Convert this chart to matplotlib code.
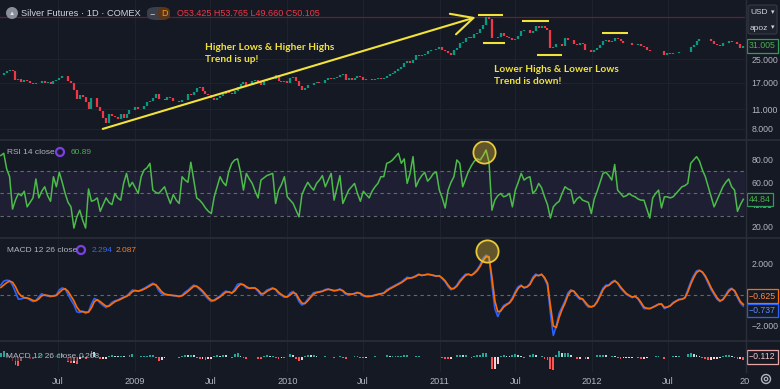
import numpy as np
import pandas as pd
import matplotlib
matplotlib.use('Agg')
import matplotlib.pyplot as plt
import matplotlib.dates as mdates
from matplotlib.ticker import FixedLocator, NullLocator, FixedFormatter
from matplotlib.patches import Ellipse, FancyBboxPatch
from matplotlib.lines import Line2D
from matplotlib.transforms import blended_transform_factory

plt.rcParams['font.family'] = ['Liberation Sans', 'DejaVu Sans']

# ---------------- data (weekly) ----------------
start_date = '2008-02-15'

close = [
    19.3, 19.8, 20.4,
    20.8, 20.5, 17.6, 17.9,
    17.2, 17.6, 17.5, 16.8,
    16.5, 17.0, 16.8, 17.4, 16.8,
    17.1, 16.7, 17.4, 17.7,
    18.3, 18.9, 18.8, 17.5,
    17.0, 15.0, 12.9, 13.8, 13.5,
    12.4, 11.1, 13.1, 13.3,
    11.4, 10.6, 9.5, 8.7, 10.1,
    9.9, 9.6, 9.3, 10.1,
    9.5, 10.1, 10.8, 10.9,
    # 2009
    11.3, 11.0, 11.1, 11.6, 12.4,
    12.6, 13.3, 14.1, 13.0,
    13.0, 12.7, 13.4, 13.2,
    12.5, 12.6, 12.3, 12.7,
    12.8, 14.0, 13.9, 14.6, 15.6,
    15.7, 14.9, 14.2, 13.9,
    13.3, 12.8, 13.3, 13.7, 14.0,
    14.8, 14.4, 14.2, 14.7,
    15.9, 16.5, 17.2, 16.3,
    16.4, 17.4, 17.6, 17.1, 16.3,
    17.3, 17.6, 18.4, 18.0,
    19.1, 17.5, 17.2, 17.3,
    # 2010
    17.0, 18.3, 18.6, 17.4, 16.2,
    15.0, 15.6, 16.3, 16.4,
    17.0, 17.2, 16.8, 16.9,
    17.6, 18.3, 18.0, 18.2, 18.6,
    19.3, 19.5, 17.6, 18.3,
    17.7, 18.4, 19.0, 18.7,
    17.7, 18.0, 17.9, 17.8, 17.9,
    18.2, 18.1, 18.3, 18.9,
    19.6, 19.9, 20.7, 21.3,
    22.1, 23.3, 24.3, 23.4, 24.7,
    26.8, 26.2, 26.8, 27.3,
    28.5, 28.8, 29.0, 29.3, 30.6,
    # 2011
    28.9, 28.4, 27.4, 26.8,
    29.0, 30.2, 32.5, 33.3,
    35.5, 35.6, 35.2, 37.5,
    38.0, 40.7, 43.5, 49.5, 47.8,
    35.3, 35.1, 35.6, 38.2,
    36.4, 35.9, 35.2, 34.0,
    34.6, 36.5, 39.3, 40.0, 40.2,
    38.3, 39.3, 42.8, 41.3,
    43.1, 41.6, 40.0, 30.1, 30.5,
    31.8, 32.1, 31.1, 35.3,
    34.4, 34.3, 31.9, 31.4,
    32.6, 32.0, 29.2, 29.2, 28.2,
    # 2012
    29.0, 30.0, 31.7, 33.6,
    34.0, 33.3, 33.6, 35.4,
    34.6, 33.8, 32.7, 32.3, 32.6,
    31.7, 31.6, 31.8, 31.2,
    30.5, 28.9, 28.6, 28.3,
    28.5, 28.4, 28.6, 26.7, 27.5,
    27.0, 27.6, 27.5, 28.0,
    27.9, 28.0, 28.2, 30.6, 31.6,
    33.6, 34.6, 34.6, 34.5,
    34.6, 33.4, 32.2, 31.6,
    30.8, 32.4, 32.5, 33.8, 33.0,
    33.0, 32.2, 30.0, 31.005,
]

rsi = [
    84, 86, 72, 65, 36, 44, 50, 48, 52, 38,
    42, 46, 63, 46, 52, 56, 48, 43, 65, 56,
    69, 60, 50, 42, 38, 19, 29, 35, 26, 19,
    54, 43, 44, 46, 34, 40, 46, 42, 40, 50,
    46, 44, 59, 68, 56, 60, 55, 50, 65, 71,
    73, 77, 53, 51, 50, 53, 56, 48, 41, 49,
    44, 41, 65, 62, 60, 78, 62, 46, 44, 41,
    37, 34, 32, 47, 56, 65, 60, 57, 70, 77,
    80, 81, 69, 53, 68, 63, 59, 52, 46, 62,
    64, 66, 67, 68, 41, 53, 58, 65, 47, 44,
    41, 35, 29, 49, 55, 60, 56, 53, 59, 62,
    66, 56, 62, 68, 44, 55, 66, 41, 47, 53,
    56, 59, 50, 43, 52, 49, 46, 52, 56, 59,
    65, 65, 77, 78, 80, 83, 86, 77, 81, 59,
    68, 83, 56, 62, 66, 69, 61, 64, 68, 69,
    53, 46, 37, 53, 60, 65, 80, 77, 56, 63,
    70, 75, 79, 81, 80, 84, 89, 78, 35,
    44, 48, 50, 47, 48, 50, 38, 53, 60, 68,
    62, 64, 65, 50, 53, 59, 55, 47, 40, 28,
    38, 41, 43, 50, 56, 54, 53, 41, 45, 47,
    44, 43, 42, 32, 45, 52, 60, 68, 69, 66,
    62, 76, 53, 50, 47, 48, 50, 48, 47, 45,
    44, 44, 36, 28, 46, 50, 53, 37, 47, 47,
    46, 47, 50, 53, 56, 57, 59, 77, 80, 83,
    79, 71, 65, 56, 47, 38, 44, 50, 56, 60,
    63, 56, 53, 34, 40, 44.84,
]

macd = [
    0.6, 0.85, 0.91, 0.88, 0.6, 0.15, -0.3, -0.28, -0.22, -0.24,
    -0.35, -0.45, -0.38, -0.15, 0.05, -0.05, -0.1, -0.14, -0.08, -0.03,
    0.3, 0.42, 0.35, 0.0, -0.35, -0.65, -1.1, -1.15, -1.05, -1.2,
    -1.1, -0.6, -0.25, -0.35, -0.55, -0.7, -0.83, -0.7, -0.5, -0.4,
    -0.35, -0.25, -0.16, -0.1, 0.1, 0.29, 0.25, 0.2, 0.3, 0.39,
    0.5, 0.62, 0.72, 0.6, 0.25, 0.05, -0.02, -0.03, -0.05, -0.07,
    -0.1, -0.14, -0.05, 0.15, 0.27, 0.45, 0.6, 0.5, 0.32, 0.15,
    -0.1, -0.3, -0.45, -0.35, -0.2, -0.1, 0.1, 0.22, 0.15, 0.07,
    0.35, 0.65, 0.7, 0.6, 0.42, 0.38, 0.43, 0.4, 0.2, -0.03,
    0.1, 0.28, 0.35, 0.43, 0.3, 0.05, -0.05, -0.18, -0.15, 0.1,
    0.2, -0.05, -0.45, -0.67, -0.55, -0.3, -0.1, 0.12, 0.15, 0.18,
    0.22, 0.32, 0.35, 0.28, 0.22, 0.28, 0.35, 0.2, 0.0, 0.02,
    0.01, 0.08, 0.14, 0.05, -0.1, -0.14, -0.12, -0.08, -0.02, 0.02,
    0.06, 0.1, 0.3, 0.4,
    0.5, 0.6, 0.7, 0.8, 0.95, 1.1, 1.05, 1.1, 1.2, 1.3,
    1.2, 1.25, 1.3, 1.25, 1.2, 1.15, 1.2, 1.0, 0.8, 0.5,
    0.3, 0.4, 0.6, 0.9, 1.1, 1.3, 1.3, 1.2, 1.4, 1.6,
    1.9, 2.3, 2.5, 2.4, 0.6, -0.9, -1.4, -1.0, -0.7, -0.6,
    -0.5, -0.2, 0.2, 0.5, 0.6, 0.4, 0.5, 0.7, 1.1, 1.3,
    1.2, 1.3, 1.0, 0.6, -1.2, -2.6, -2.0, -1.2, -0.8, -0.4,
    0.1, 0.3, 0.2, -0.1, -0.3, -0.3, -0.6, -0.8, -0.8, -0.7,
    -0.4, 0.0, 0.4, 0.6, 0.6, 0.8, 0.9, 0.7, 0.4, 0.2,
    0.0, -0.1, -0.2, -0.1, -0.3, -0.6, -0.9, -0.9, -0.9, -0.8,
    -0.7, -0.6, -0.6, -0.9, -0.8, -0.7, -0.5, -0.4, -0.3, -0.3,
    -0.2, 0.3, 0.8, 1.2, 1.5, 1.55, 1.4, 1.1, 0.7, 0.3,
    0.0, -0.3, -0.45, -0.3, 0.0, 0.3, 0.4, 0.2, -0.2, -0.55, -0.737,
]

signal = [
    0.45, 0.6, 0.75, 0.85, 0.78, 0.5, 0.1, -0.1, -0.2, -0.22,
    -0.28, -0.38, -0.4, -0.28, -0.08, -0.03, -0.06, -0.1, -0.1, -0.06,
    0.12, 0.3, 0.37, 0.2, -0.1, -0.4, -0.8, -1.05, -1.1, -1.12,
    -1.12, -0.85, -0.45, -0.33, -0.45, -0.6, -0.74, -0.74, -0.6, -0.46,
    -0.38, -0.3, -0.2, -0.12, 0.0, 0.18, 0.25, 0.22, 0.26, 0.34,
    0.44, 0.55, 0.65, 0.63, 0.42, 0.18, 0.04, -0.01, -0.04, -0.06,
    -0.08, -0.11, -0.08, 0.05, 0.2, 0.36, 0.52, 0.53, 0.4, 0.23,
    0.02, -0.2, -0.37, -0.38, -0.27, -0.15, 0.0, 0.15, 0.17, 0.1,
    0.22, 0.48, 0.65, 0.63, 0.5, 0.4, 0.41, 0.41, 0.28, 0.06,
    0.05, 0.2, 0.3, 0.38, 0.34, 0.15, 0.0, -0.12, -0.15, -0.02,
    0.12, 0.05, -0.28, -0.55, -0.58, -0.4, -0.18, 0.02, 0.12, 0.16,
    0.2, 0.28, 0.33, 0.3, 0.25, 0.26, 0.32, 0.25, 0.08, 0.03,
    0.02, 0.05, 0.11, 0.08, -0.05, -0.11, -0.12, -0.1, -0.05, 0.0,
    0.04, 0.08, 0.22, 0.35, 0.45, 0.55, 0.65, 0.75, 0.88, 1.02,
    1.04, 1.08, 1.16, 1.26, 1.22, 1.24, 1.28, 1.26, 1.22, 1.17,
    1.18, 1.05, 0.87, 0.6, 0.38, 0.38, 0.53, 0.8, 1.02, 1.22,
    1.28, 1.23, 1.34, 1.52, 1.8, 2.15, 2.4, 2.38, 1.1, -0.4,
    -1.1, -1.05, -0.8, -0.65, -0.54, -0.3, 0.08, 0.4, 0.55, 0.45,
    0.48, 0.63, 0.98, 1.22, 1.2, 1.27, 1.08, 0.72, -0.7, -2.0,
    -2.1, -1.45, -0.95, -0.55, -0.05, 0.22, 0.22, 0.0, -0.22, -0.28,
    -0.5, -0.72, -0.78, -0.72, -0.48, -0.1, 0.3, 0.52, 0.58, 0.74,
    0.86, 0.74, 0.48, 0.26, 0.06, -0.06, -0.16, -0.12, -0.25, -0.5,
    -0.8, -0.87, -0.89, -0.82, -0.73, -0.63, -0.6, -0.82, -0.8, -0.72,
    -0.55, -0.43, -0.33, -0.3, -0.22, 0.16, 0.65, 1.07, 1.4, 1.52,
    1.43, 1.18, 0.82, 0.42, 0.1, -0.2, -0.4, -0.33, -0.08, 0.2,
    0.36, 0.25, -0.1, -0.45, -0.625,
]

hist = [
    0.15, 0.25, 0.16, 0.03, -0.18, -0.35, -0.4, -0.18, -0.02, -0.02,
    -0.07, -0.07, 0.02, 0.13, 0.13, -0.02, -0.04, -0.04, 0.02, 0.03,
    0.18, 0.12, -0.02, -0.2, -0.25, -0.25, -0.3, -0.1, 0.05, -0.08,
    0.02, 0.25, 0.2, -0.02, -0.1, -0.1, -0.09, 0.04, 0.1, 0.06,
    0.03, 0.05, 0.04, 0.02, 0.1, 0.11, 0.0, -0.02, 0.04, 0.05,
    0.06, 0.07, 0.07, -0.03, -0.17, -0.13, -0.06, -0.02, -0.01, -0.01,
    -0.02, -0.03, 0.03, 0.1, 0.07, 0.09, 0.08, -0.03, -0.08, -0.08,
    -0.12, -0.1, -0.08, 0.03, 0.07, 0.05, 0.1, 0.07, -0.02, -0.03,
    0.13, 0.17, 0.05, -0.03, -0.08, -0.02, 0.02, -0.01, -0.08, -0.09,
    0.05, 0.08, 0.05, 0.05, -0.04, -0.1, -0.05, -0.06, 0.0, 0.12,
    0.08, -0.1, -0.17, -0.12, 0.03, 0.1, 0.08, 0.1, 0.03, 0.02,
    0.02, 0.04, 0.02, -0.02, -0.03, 0.02, 0.03, -0.05, -0.08, -0.01,
    -0.01, 0.03, 0.03, -0.03, -0.05, -0.03, 0.0, 0.02, 0.03, 0.02,
    0.02, 0.02, 0.08, 0.05, 0.05, 0.05, 0.05, 0.05, 0.07, 0.08,
    0.01, 0.02, 0.04, 0.04, -0.02, 0.01, 0.02, -0.01, -0.02, -0.02,
    0.02, -0.05, -0.07, -0.1, -0.08, 0.02, 0.07, 0.1, 0.08, 0.08,
    0.02, -0.03, 0.06, 0.08, 0.1, 0.15, 0.15, 0.0, -0.5, -0.5,
    -0.3, 0.05, 0.1, 0.05, 0.04, 0.1, 0.12, 0.1, 0.05, -0.05,
    0.02, 0.07, 0.12, 0.08, 0.0, 0.03, -0.08, -0.12, -0.5, -0.55,
    0.1, 0.25, 0.15, 0.15, 0.15, 0.08, -0.02, -0.1, -0.08, -0.02,
    -0.1, -0.08, -0.02, 0.02, 0.08, 0.1, 0.1, 0.08, 0.02, 0.06,
    0.04, -0.04, -0.08, -0.06, -0.06, -0.04, -0.04, 0.02, -0.05, -0.1,
    -0.1, -0.03, -0.01, 0.02, 0.03, 0.03, 0.0, -0.08, 0.0, 0.02,
    0.05, 0.03, 0.03, 0.0, 0.02, 0.14, 0.15, 0.13, 0.1, 0.03,
    -0.03, -0.08, -0.12, -0.12, -0.1, -0.1, -0.05, 0.03, 0.08, 0.1,
    0.04, -0.05, -0.1, -0.1, -0.112,
]

price_ticks = [8, 11, 17, 25]
price_tick_labels = ['8.000', '11.000', '17.000', '25.000']
rsi_ticks = [20, 40, 60, 80]
rsi_tick_labels = ['20.00', '40.00', '60.00', '80.00']
macd_ticks = [-2, 2]
macd_tick_labels = ['\u22122.000', '2.000']
time_ticks = ['2008-07-01', '2009-01-01', '2009-07-01', '2010-01-01', '2010-07-01',
              '2011-01-01', '2011-07-01', '2012-01-01', '2012-07-01', '2013-01-01']
time_labels = ['Jul', '2009', 'Jul', '2010', 'Jul', '2011', 'Jul', '2012', 'Jul', '20']

# annotations (data coordinates)
trend_arrow = (('2008-10-16', 7.95), ('2011-03-28', 49.6))
level_lines = [
    ('2011-04-02', '2011-06-01', 51.4),
    ('2011-04-14', '2011-06-06', 32.5),
    ('2011-07-16', '2011-09-19', 46.6),
    ('2011-08-21', '2011-10-20', 26.7),
    ('2012-01-24', '2012-03-26', 38.3),
]
text_up = ('2009-06-18', 32.6, 'Higher Lows & Higher Highs\nTrend is up!')
text_down = ('2011-05-12', 22.7, 'Lower Highs & Lower Lows\nTrend is down!')
rsi_circle = ('2011-04-18', 87.2)
macd_circle = ('2011-04-23', 2.76)

# ---------------- style ----------------
W, H, DPI = 780, 389, 100
BG = '#151924'
GRID = '#1e222d'
SEP = '#2a2e39'
TXT = '#b2b5be'
UP = '#089981'
DN = '#f23645'
RSI_C = '#4cbb4a'
BLUE = '#2962ff'
ORANGE = '#ff6d00'
YEL = '#f2e33a'
FS = 6.0

fig = plt.figure(figsize=(W / DPI, H / DPI), dpi=DPI, facecolor=BG)


def fx(px):
    return px / W


def fy(py):
    return 1 - py / H


PR = 745  # right edge of plotting area (px)
ax_p = fig.add_axes([0, fy(140), fx(PR), 140 / H])
ax_r = fig.add_axes([0, fy(237), fx(PR), 96 / H])
ax_m = fig.add_axes([0, fy(340), fx(PR), 102 / H])
ax_h = fig.add_axes([0, fy(372), fx(PR), 31 / H])

dates = pd.date_range(start_date, periods=len(close), freq='7D')
xd = mdates.date2num(dates)
tt = mdates.date2num(pd.to_datetime(time_ticks))
xlim = (mdates.date2num(pd.Timestamp('2008-02-13')), mdates.date2num(pd.Timestamp('2013-01-01')))

for ax in (ax_p, ax_r, ax_m, ax_h):
    ax.set_facecolor(BG)
    for s in ax.spines.values():
        s.set_visible(False)
    ax.set_xlim(*xlim)
    ax.xaxis.set_major_locator(FixedLocator(tt))
    ax.xaxis.set_minor_locator(NullLocator())
    ax.grid(axis='x', color=GRID, lw=0.8)
    ax.tick_params(axis='x', length=0, labelbottom=False)
    ax.yaxis.tick_right()
    ax.tick_params(axis='y', which='both', length=0, pad=4.5, labelsize=6.3, labelcolor=TXT)
    ax.set_axisbelow(True)

# ---- price panel ----
c = np.array(close)
o = np.r_[c[0], c[:-1]]
cols = np.where(c >= o, UP, DN)
ax_p.set_yscale('log')
ax_p.set_ylim(6.63, 65.8)
ax_p.yaxis.set_major_locator(FixedLocator(price_ticks))
ax_p.yaxis.set_minor_locator(NullLocator())
ax_p.yaxis.set_major_formatter(FixedFormatter(price_tick_labels))
ax_p.grid(axis='y', color=GRID, lw=0.8)
ax_p.axhline(50.105, color='#5a2530', lw=0.9)
ax_p.vlines(xd, np.minimum(o, c), np.maximum(o, c), colors=cols, lw=1.6)

a0 = (mdates.date2num(pd.Timestamp(trend_arrow[0][0])), trend_arrow[0][1])
a1 = (mdates.date2num(pd.Timestamp(trend_arrow[1][0])), trend_arrow[1][1])
ax_p.annotate('', xy=a1, xytext=a0,
              arrowprops=dict(arrowstyle='->,head_length=1.1,head_width=0.55',
                              color=YEL, lw=1.5, mutation_scale=14, shrinkA=0, shrinkB=0))
for d0, d1, lvl in level_lines:
    ax_p.plot([mdates.date2num(pd.Timestamp(d0)), mdates.date2num(pd.Timestamp(d1))], [lvl, lvl],
              color=YEL, lw=1.5, solid_capstyle='butt')
for d0, yv, s in (text_up, text_down):
    ax_p.text(mdates.date2num(pd.Timestamp(d0)), yv, s, color=YEL, fontsize=7.3,
              family=['Lato', 'DejaVu Sans'], fontweight='bold', va='top', ha='left', linespacing=1.5)

tr = blended_transform_factory(ax_p.transAxes, ax_p.transData)
ax_p.text(1.005, close[-1], f'{close[-1]:.3f}', transform=tr, ha='left', va='center', fontsize=6.3,
          color='#4caf50', bbox=dict(boxstyle='square,pad=0.25', fc=BG, ec='#2e9e5b', lw=0.9))

# ---- RSI panel ----
ax_r.set_ylim(11.0, 97.0)
ax_r.yaxis.set_major_locator(FixedLocator(rsi_ticks))
ax_r.yaxis.set_major_formatter(FixedFormatter(rsi_tick_labels))
ax_r.axhspan(30, 70, color='#7e57c2', alpha=0.10, lw=0)
for lv in (70, 50, 30):
    ax_r.axhline(lv, color='#787b86', lw=0.8, ls=(0, (3, 3)), alpha=0.8)
ax_r.plot(xd, rsi, color=RSI_C, lw=1.1)
ax_r.plot([mdates.date2num(pd.Timestamp(rsi_circle[0]))], [rsi_circle[1]], 'o', ms=16,
          mfc=(0.95, 0.78, 0.2, 0.35), mec='#e8c93a', mew=1.3)
tr = blended_transform_factory(ax_r.transAxes, ax_r.transData)
ax_r.text(1.005, rsi[-1], f'{rsi[-1]:.2f}', transform=tr, ha='left', va='center', fontsize=6.3,
          color='#4caf50', zorder=10,
          bbox=dict(boxstyle='square,pad=0.25', fc=BG, ec='#2e9e5b', lw=0.9))

# ---- MACD panel ----
ax_m.set_ylim(-2.89, 3.59)
ax_m.yaxis.set_major_locator(FixedLocator(macd_ticks))
ax_m.yaxis.set_major_formatter(FixedFormatter(macd_tick_labels))
ax_m.axhline(0, color='#787b86', lw=0.8, ls=(0, (3, 3)), alpha=0.8)
ax_m.plot(xd, macd, color=BLUE, lw=1.2)
ax_m.plot(xd, signal, color=ORANGE, lw=1.2)
ax_m.plot([mdates.date2num(pd.Timestamp(macd_circle[0]))], [macd_circle[1]], 'o', ms=16,
          mfc=(0.95, 0.78, 0.2, 0.35), mec='#e8c93a', mew=1.3)
tr = blended_transform_factory(ax_m.transAxes, ax_m.transData)
ax_m.annotate(f'{signal[-1]:.3f}'.replace('-', '\u2212'), xy=(1.005, signal[-1]), xycoords=tr,
              xytext=(0, 6), textcoords='offset points', ha='left', va='center', fontsize=6.3,
              color='#ff8a3d', bbox=dict(boxstyle='square,pad=0.25', fc=BG, ec=ORANGE, lw=0.9))
ax_m.annotate(f'{macd[-1]:.3f}'.replace('-', '\u2212'), xy=(1.005, macd[-1]), xycoords=tr,
              xytext=(0, -3), textcoords='offset points', ha='left', va='center', fontsize=6.3,
              color='#5b8cff', bbox=dict(boxstyle='square,pad=0.25', fc=BG, ec=BLUE, lw=0.9))

# ---- histogram panel ----
hv = np.array(hist)
prev = np.r_[hv[0], hv[:-1]]
hcols = np.where(hv >= 0, np.where(hv >= prev, '#26a69a', '#b2dfdb'),
                 np.where(hv < prev, '#ff5252', '#ffcdd2'))
ax_h.set_ylim(-0.636, 0.678)
ax_h.set_yticks([])
ax_h.bar(xd, hv, width=4.5, color=hcols, lw=0)
ax_h.tick_params(axis='x', labelbottom=True, labelsize=6.6, labelcolor=TXT, pad=3.5)
ax_h.xaxis.set_major_formatter(FixedFormatter(time_labels))
tr = blended_transform_factory(ax_h.transAxes, ax_h.transData)
ax_h.text(1.005, 0, f'{hist[-1]:.3f}'.replace('-', '\u2212'), transform=tr, ha='left', va='center',
          fontsize=6.3, color='#f5c4c4', bbox=dict(boxstyle='square,pad=0.25', fc=BG, ec='#e9a5a5', lw=0.9))

# ---- separators ----
for yy in (140.5, 237.5, 340.5):
    fig.add_artist(Line2D([0, 1], [fy(yy), fy(yy)], color=SEP, lw=1.2, transform=fig.transFigure))
fig.add_artist(Line2D([fx(PR + 0.5), fx(PR + 0.5)], [fy(372), 1], color=SEP, lw=1.0, transform=fig.transFigure))

# ---- header / legends ----
fig.add_artist(Ellipse((fx(12), fy(13)), 12 / W, 12 / H, transform=fig.transFigure, fc='#8a8e99', ec='none'))
fig.text(fx(12), fy(13.5), '\u25b2', ha='center', va='center', fontsize=4.5, color='#e0e3eb')
fig.text(fx(21), fy(13), 'Silver Futures \u00b7 1D \u00b7 COMEX', ha='left', va='center', fontsize=6.7, color='#d1d4dc')
fig.add_artist(FancyBboxPatch((fx(147), fy(20)), 23 / W, 13 / H, boxstyle='round,pad=0,rounding_size=0.012',
                              transform=fig.transFigure, fc='#3a3f4b', ec='none'))
fig.add_artist(FancyBboxPatch((fx(158), fy(20)), 12 / W, 13 / H, boxstyle='round,pad=0,rounding_size=0.012',
                              transform=fig.transFigure, fc='#5a3518', ec='none'))
fig.text(fx(152.5), fy(13.5), '\u2212', ha='center', va='center', fontsize=6.5, color='#d1d4dc')
fig.text(fx(164), fy(13.5), 'D', ha='center', va='center', fontsize=6.5, color='#ff9800')
fig.text(fx(177), fy(13), 'O53.425 H53.765 L49.660 C50.105', ha='left', va='center', fontsize=6.5, color='#f23645')

fig.add_artist(FancyBboxPatch((fx(748), fy(34)), 29 / W, 29 / H, boxstyle='round,pad=0,rounding_size=0.004',
                              transform=fig.transFigure, fc='#1e222d', ec='#363a45', lw=0.8))
fig.text(fx(750.5), fy(12.5), 'USD', ha='left', va='center', fontsize=6, color='#d1d4dc')
fig.text(fx(772.5), fy(12.5), '\u25be', ha='center', va='center', fontsize=5, color='#d1d4dc')
fig.text(fx(750), fy(28), 'apoz', ha='left', va='center', fontsize=6, color='#d1d4dc')
fig.text(fx(772.5), fy(28), '\u25be', ha='center', va='center', fontsize=5, color='#d1d4dc')

fig.text(fx(7), fy(152), 'RSI 14 close', ha='left', va='center', fontsize=FS, color=TXT)
fig.add_artist(Ellipse((fx(60), fy(152)), 8 / W, 8 / H, transform=fig.transFigure, fc='none', ec='#7b3fe4', lw=1.6))
fig.text(fx(71), fy(152), '60.89', ha='left', va='center', fontsize=FS, color='#4caf50')

fig.text(fx(7), fy(250), 'MACD 12 26 close', ha='left', va='center', fontsize=FS, color=TXT)
fig.add_artist(Ellipse((fx(81), fy(250)), 8 / W, 8 / H, transform=fig.transFigure, fc='none', ec='#7b3fe4', lw=1.6))
fig.text(fx(92), fy(250), '2.294', ha='left', va='center', fontsize=FS, color='#2f6bff')
fig.text(fx(116), fy(250), '2.087', ha='left', va='center', fontsize=FS, color='#ff7a1a')

fig.text(fx(6), fy(357), 'MACD 12 26 close', ha='left', va='center', fontsize=FS, color=TXT,
         bbox=dict(boxstyle='square,pad=0.1', fc=BG, ec='none', alpha=0.6))
fig.text(fx(79), fy(357), '0.208', ha='left', va='center', fontsize=FS, color=TXT)

fig.add_artist(Ellipse((fx(766), fy(379)), 9 / W, 9 / H, transform=fig.transFigure, fc='none', ec=TXT, lw=1.0))
fig.add_artist(Ellipse((fx(766), fy(379)), 3.5 / W, 3.5 / H, transform=fig.transFigure, fc='none', ec=TXT, lw=0.9))

fig.savefig('out.png', dpi=DPI, facecolor=BG)
